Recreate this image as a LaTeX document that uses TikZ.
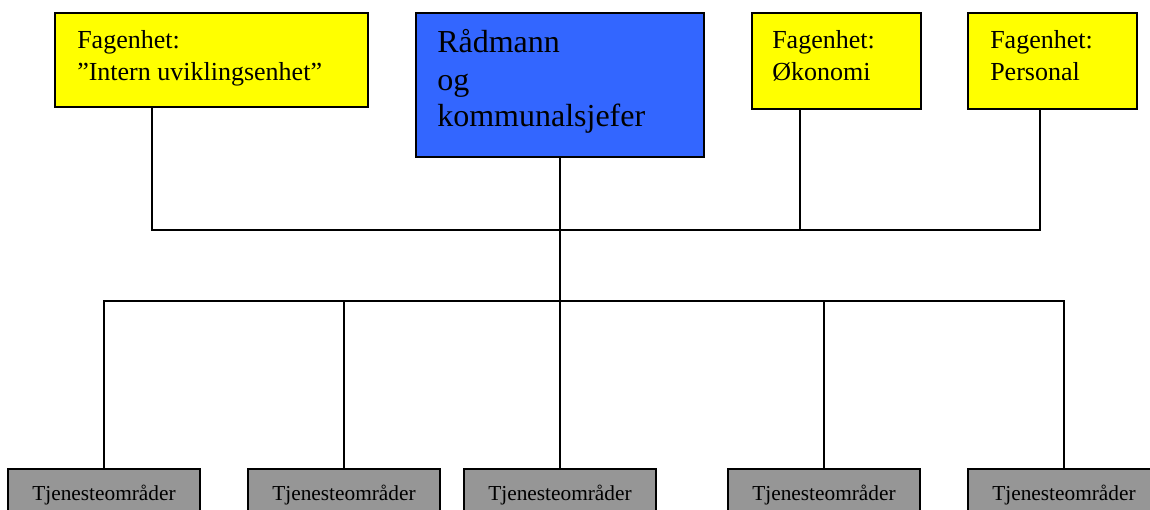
\documentclass[tikz,border=0pt]{standalone}
\usepackage{fontspec}
\setmainfont{Liberation Serif}
\definecolor{fyellow}{HTML}{FFFF00}
\definecolor{fblue}{HTML}{3366FF}
\definecolor{fgray}{HTML}{969696}
\begin{document}
\begin{tikzpicture}[x=0.75pt,y=-0.75pt,
  box/.style={draw=black,line width=1.5pt,inner sep=0pt,outer sep=0pt,anchor=north west},
  ybox/.style={box,fill=fyellow,minimum width=126.75pt,minimum height=72pt},
  gbox/.style={box,fill=fgray,minimum width=144pt,minimum height=60pt},
  txt/.style={inner sep=0pt,anchor=base west,align=left},
  ytxt/.style={txt,font=\fontsize{19.5}{24}\selectfont},
  btxt/.style={txt,font=\fontsize{24}{27.75}\selectfont},
  gtxt/.style={inner sep=0pt,anchor=base,font=\fontsize{16}{19}\selectfont},
  conn/.style={draw=black,line width=1.5pt}]
\useasboundingbox (0,0) rectangle (1150,510);
\clip (0,0) rectangle (1150,510);
% top boxes
\node[box,fill=fyellow,minimum width=234.75pt,minimum height=70.5pt] (A) at (55,13) {};
\node[box,fill=fblue,minimum width=216pt,minimum height=108pt] (B) at (416,13) {};
\node[ybox] (C) at (752,13) {};
\node[ybox] (D) at (968,13) {};
\node[ytxt] (At) at (77,80) {Fagenhet:\\”Intern uviklingsenhet”};
\node[btxt] (Bt) at (437,127) {Rådmann\\og\\kommunalsjefer};
\node[ytxt] (Ct) at (772,80) {Fagenhet:\\Økonomi};
\node[ytxt] (Dt) at (990,80) {Fagenhet:\\Personal};
% bottom boxes
\node[gbox] (G1) at (8,469) {};
\node[gbox] (G2) at (248,469) {};
\node[gbox] (G3) at (464,469) {};
\node[gbox] (G4) at (728,469) {};
\node[gbox] (G5) at (968,469) {};
\foreach \i/\x in {1/104,2/344,3/560,4/824,5/1064}{
  \node[gtxt] (G\i t) at (\x,500) {Tjenesteområder};
}
% junctions
\coordinate (j1) at (560,230);
\coordinate (j2) at (560,301);
% upper bus
\draw[conn] (A.south -| 152,0) |- (j1) -| (D.south -| 1040,0);
\draw[conn] (C.south -| 800,0) -- (800,230);
\draw[conn] (B.south) -- (j2);
% lower bus
\draw[conn] (G1.north) |- (j2) -| (G5.north);
\draw[conn] (G2.north) -- (G2.north |- j2);
\draw[conn] (G3.north) -- (j2);
\draw[conn] (G4.north) -- (G4.north |- j2);
\end{tikzpicture}
\end{document}
